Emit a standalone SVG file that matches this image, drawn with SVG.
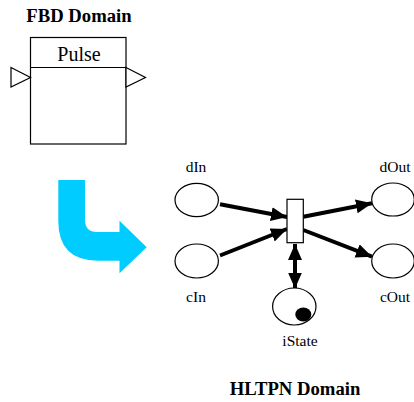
<svg xmlns="http://www.w3.org/2000/svg" width="414" height="402" viewBox="0 0 414 402">
<style>
.t{font-family:"Liberation Serif","Times New Roman",Times,serif;fill:#000;text-anchor:middle}
.b{font-weight:700;font-size:18.7px}
.l{font-size:15.5px}
.o{fill:#fff;stroke:#000;stroke-width:1.2}
.a{stroke:#000;stroke-width:4;fill:none}
</style>
<defs>
<marker id="ah" markerUnits="userSpaceOnUse" markerWidth="18" markerHeight="16" refX="16" refY="7" orient="auto-start-reverse" viewBox="0 0 18 16">
<path d="M0,0 L16,7 L0,14 z" fill="#000"/>
</marker>
</defs>
<rect width="414" height="402" fill="#fff"/>
<text class="t b" x="79" y="22">FBD Domain</text>
<g id="pulse">
<rect class="o" x="30.5" y="37.5" width="95.5" height="106.5"/>
<line x1="30.5" y1="67.5" x2="126" y2="67.5" stroke="#000" stroke-width="1.2"/>
<text class="t" x="79" y="61" font-size="20">Pulse</text>
<polygon class="o" points="11,67.5 30.5,77.5 11,87"/>
<polygon class="o" points="126,67.5 145.5,77.5 126,87"/>
</g>
<g id="transform-arrow">
<path d="M58.3,180 L85,180 L85,220 Q85,232 97,232 L119.5,232 L119.5,220.7 L146.7,247.3 L119.5,273.3 L119.5,260.7 L98,260.7 Q58.3,260.7 58.3,221 Z" fill="#00ccff"/>
</g>
<g id="connectors">
<line class="a" x1="220" y1="204.3" x2="287" y2="217" marker-end="url(#ah)"/>
<line class="a" x1="220" y1="255.5" x2="287" y2="229" marker-end="url(#ah)"/>
<line class="a" x1="303.3" y1="216.7" x2="372" y2="203.3" marker-end="url(#ah)"/>
<line class="a" x1="303.3" y1="230" x2="372" y2="256.7" marker-end="url(#ah)"/>
<line class="a" x1="295" y1="244" x2="295" y2="288.5" marker-start="url(#ah)" marker-end="url(#ah)"/>
</g>
<g id="dIn">
<ellipse class="o" cx="196.7" cy="200" rx="21.7" ry="16.7"/>
<text class="t l" x="196" y="172">dIn</text>
</g>
<g id="cIn">
<ellipse class="o" cx="196.7" cy="261" rx="21.7" ry="17"/>
<text class="t l" x="196" y="302">cIn</text>
</g>
<g id="dOut">
<ellipse class="o" cx="393" cy="199.5" rx="21.3" ry="16.5"/>
<text class="t l" x="395" y="172">dOut</text>
</g>
<g id="cOut">
<ellipse class="o" cx="393" cy="261" rx="21.3" ry="17"/>
<text class="t l" x="395" y="302">cOut</text>
</g>
<g id="transition">
<rect class="o" x="287" y="199.3" width="16.3" height="43.4"/>
</g>
<g id="iState">
<ellipse class="o" cx="294.3" cy="306.5" rx="21.7" ry="18.5"/>
<ellipse cx="303.3" cy="314.5" rx="8" ry="7" fill="#000"/>
<text class="t l" x="300" y="346" font-size="16">iState</text>
</g>
<text class="t b" x="295" y="395">HLTPN Domain</text>
</svg>
